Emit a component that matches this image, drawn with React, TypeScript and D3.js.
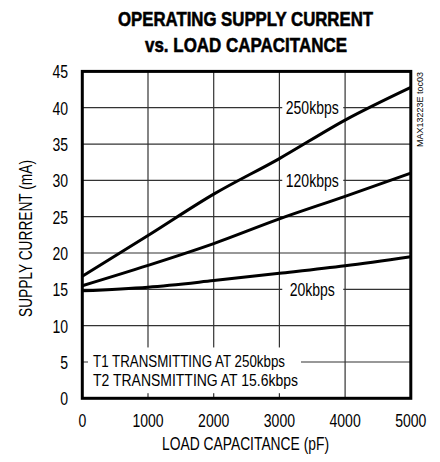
import React from "react";
import * as d3 from "d3";

// load capacitance (pF)
const capacitance = [0, 1000, 2000, 3000, 4000, 5000];
// supply current (mA) per data rate
const current250 = [16.8, 22.4, 28.1, 33.0, 38.3, 42.8];
const current120 = [15.5, 18.3, 21.3, 24.7, 27.8, 31.0];
const current20 = [14.8, 15.3, 16.2, 17.2, 18.25, 19.5];

const xTicks = [0, 1000, 2000, 3000, 4000, 5000];
const yTicks = [0, 5, 10, 15, 20, 25, 30, 35, 40, 45];

const seriesLabels = [
  { text: "250kbps", at: 3500, val: 40 },
  { text: "120kbps", at: 3500, val: 30 },
  { text: "20kbps", at: 3500, val: 15 },
];

const FONT = "'Liberation Sans', Arial, sans-serif";
const SQUEEZE = 0.78;

// narrow text: Liberation Sans squeezed horizontally
const NText: React.FC<{ x: number; y: number; anchor?: string; size?: number; children: React.ReactNode }> = ({
  x,
  y,
  anchor = "start",
  size = 18,
  children,
}) => (
  <text transform={`translate(${x},${y}) scale(${SQUEEZE},1)`} textAnchor={anchor} fontSize={size}>
    {children}
  </text>
);

const App: React.FC = () => {
  const width = 440;
  const height = 462;
  const margin = { top: 71.4, right: 29.2, bottom: 63.7, left: 82.3 };

  const x = d3.scaleLinear().domain([0, 5000]).range([margin.left, width - margin.right]);
  const y = d3.scaleLinear().domain([0, 45]).range([height - margin.bottom, margin.top]);

  const line = d3
    .line<[number, number]>()
    .x((d) => x(d[0]))
    .y((d) => y(d[1]))
    .curve(d3.curveMonotoneX);

  const series = [current250, current120, current20].map((vals) =>
    capacitance.map((c, i) => [c, vals[i]] as [number, number])
  );

  return (
    <svg
      width={width}
      height={height}
      style={{ position: "absolute", left: 0, top: 0, background: "#fff" }}
      fontFamily={FONT}
    >
      {/* title */}
      <text x={118} y={26} fontSize={21} fontWeight="bold" stroke="#000" strokeWidth={0.6} textLength={255} lengthAdjust="spacingAndGlyphs">
        OPERATING SUPPLY CURRENT
      </text>
      <text x={145} y={52} fontSize={21} fontWeight="bold" stroke="#000" strokeWidth={0.6} textLength={202} lengthAdjust="spacingAndGlyphs">
        vs. LOAD CAPACITANCE
      </text>

      {/* grid */}
      {xTicks.slice(1, -1).map((t) => (
        <line key={"gx" + t} x1={x(t)} x2={x(t)} y1={y(0)} y2={y(45)} stroke="#333" strokeWidth={1.2} />
      ))}
      {yTicks.slice(1, -1).map((t) => (
        <line key={"gy" + t} x1={x(0)} x2={x(5000)} y1={y(t)} y2={y(t)} stroke="#333" strokeWidth={1.2} />
      ))}

      {/* label backgrounds */}
      {seriesLabels.map((l) => (
        <rect key={"bg" + l.text} x={x(l.at) - 30} y={y(l.val) - 10} width={61} height={20} fill="#fff" />
      ))}
      <rect x={88} y={y(7)} width={213} height={y(0.7) - y(7)} fill="#fff" />

      {/* curves */}
      {series.map((s, i) => (
        <path key={i} d={line(s) || ""} fill="none" stroke="#000" strokeWidth={3} />
      ))}

      {/* series labels */}
      {seriesLabels.map((l) => (
        <NText key={l.text} x={x(l.at)} y={y(l.val) + 6.5} anchor="middle">
          {l.text}
        </NText>
      ))}
      <text x={93} y={367} fontSize={16.5} textLength={192} lengthAdjust="spacingAndGlyphs">
        T1 TRANSMITTING AT 250kbps
      </text>
      <text x={93} y={385.5} fontSize={16.5} textLength={205} lengthAdjust="spacingAndGlyphs">
        T2 TRANSMITTING AT 15.6kbps
      </text>

      {/* frame */}
      <rect
        x={x(0)}
        y={y(45)}
        width={x(5000) - x(0)}
        height={y(0) - y(45)}
        fill="none"
        stroke="#000"
        strokeWidth={3}
      />

      {/* y ticks */}
      {yTicks.map((t) => (
        <NText key={"yt" + t} x={68} y={y(t) + 7} anchor="end">
          {t}
        </NText>
      ))}
      {/* x ticks */}
      {xTicks.map((t) => (
        <NText key={"xt" + t} x={x(t)} y={427} anchor="middle">
          {t}
        </NText>
      ))}

      {/* axis titles */}
      <text x={162} y={450} fontSize={18} textLength={167} lengthAdjust="spacingAndGlyphs">
        LOAD CAPACITANCE (pF)
      </text>
      <text transform="translate(32,317) rotate(-90)" fontSize={18} textLength={157} lengthAdjust="spacingAndGlyphs">
        SUPPLY CURRENT (mA)
      </text>

      {/* figure id */}
      <text transform="translate(423,147) rotate(-90)" fontSize={9} textLength={75} lengthAdjust="spacingAndGlyphs">
        MAX13223E toc03
      </text>
    </svg>
  );
};

export default App;
